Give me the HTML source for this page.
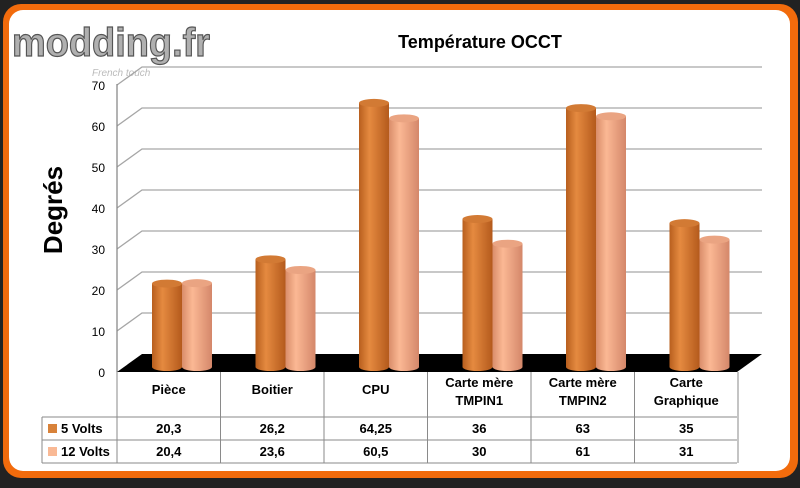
<!DOCTYPE html>
<html><head><meta charset="utf-8"><style>
body{margin:0;background:#222;width:800px;height:483px;overflow:hidden;font-family:"Liberation Sans",sans-serif}
</style></head><body>
<svg id="c" width="800" height="483" viewBox="0 0 800 483" xmlns="http://www.w3.org/2000/svg">
<defs>
<linearGradient id="g5" x1="0" x2="1"><stop offset="0" stop-color="#b85f1e"/><stop offset="0.35" stop-color="#e58a40"/><stop offset="1" stop-color="#b45a1c"/></linearGradient>
<linearGradient id="g12" x1="0" x2="1"><stop offset="0" stop-color="#d98d6a"/><stop offset="0.35" stop-color="#fbb894"/><stop offset="1" stop-color="#d4876a"/></linearGradient>
</defs>
<rect x="3" y="4" width="795" height="474" rx="18" fill="#f26b0c"/>
<rect x="9" y="10" width="781" height="461" rx="14" fill="#fff"/>
<text x="12" y="56" font-size="40" font-weight="bold" fill="#b0b0b0" stroke="#555" stroke-width="1.2" textLength="198" lengthAdjust="spacingAndGlyphs">modding.fr</text>
<text x="92" y="76" font-size="10" font-style="italic" fill="#bbb">French touch</text>
<text x="480" y="48" font-size="18" font-weight="bold" text-anchor="middle" fill="#000">Température OCCT</text>
<text transform="translate(62,210) rotate(-90)" font-size="26" font-weight="bold" text-anchor="middle" fill="#000">Degrés</text>
<g id="plot"></g>
</svg>
<script>
const categories=[["Pièce"],["Boitier"],["CPU"],["Carte mère","TMPIN1"],["Carte mère","TMPIN2"],["Carte","Graphique"]];
const seriesNames=["5 Volts","12 Volts"];
const volts5=[20.3,26.2,64.25,36,63,35];
const volts12=[20.4,23.6,60.5,30,61,31];
const labels5=["20,3","26,2","64,25","36","63","35"];
const labels12=["20,4","23,6","60,5","30","61","31"];
const yTicks=[0,10,20,30,40,50,60,70];

const NS="http://www.w3.org/2000/svg";
const g=document.getElementById('plot');
function el(t,a,p){const e=document.createElementNS(NS,t);for(const k in a)e.setAttribute(k,a[k]);(p||g).appendChild(e);return e;}
const X0=117,colW=103.5,DX=25,DY=18;
const yFront=v=>372-v*4.1;
const yBar=v=>367-v*4.11;
const xCat=i=>X0+i*colW;

yTicks.forEach(t=>{
  const y=yFront(t);
  if(t>0){
    const l=el('polyline',{points:`${X0},${y} ${X0+DX},${y-DY} 762,${y-DY}`,fill:'none',stroke:'#a6a6a6','stroke-width':1.3});
    
    
  }
  const tx=el('text',{x:105,y:y+5,'font-size':12,'text-anchor':'end',fill:'#000'});
  tx.textContent=t;
  
  
});
const ax=el('line',{x1:X0,y1:yFront(70)-1,x2:X0,y2:372,stroke:'#8a8a8a','stroke-width':1.3});


const fl=el('polygon',{points:`${X0},372 737,372 762,354 ${X0+DX},354`,fill:'#000'});



function cyl(x,v,grad,top,name){
  const w=30,rx=15,ry=4,y0=yBar(0),y1=yBar(v);
  const gg=el('g',{});
  
  
  el('rect',{x:x,y:y1,width:w,height:y0-y1,fill:'url(#'+grad+')'},gg);
  el('ellipse',{cx:x+rx,cy:y0,rx:rx,ry:ry,fill:'url(#'+grad+')'},gg);
  el('ellipse',{cx:x+rx,cy:y1,rx:rx,ry:ry,fill:top},gg);
}
categories.forEach((c,i)=>{
  cyl(xCat(i)+35,volts5[i],'g5','#d27a34','bar-5v-'+i);
  cyl(xCat(i)+65,volts12[i],'g12','#eaa482','bar-12v-'+i);
});

const ln=(x1,y1,x2,y2)=>el('line',{x1,y1,x2,y2,stroke:'#8a8a8a','stroke-width':1});
for(let i=0;i<=6;i++){ln(xCat(i),372,xCat(i),463);}
ln(42,417,737,417);ln(42,440,737,440);ln(42,463,737,463);ln(42,417,42,463);
categories.forEach((c,i)=>{
  const cx=xCat(i)+colW/2;
  c.forEach((s,j)=>{
    const t=el('text',{x:cx,y:(c.length==1?394:387)+j*18,'font-size':13,'font-weight':'bold','text-anchor':'middle'});
    t.textContent=s;
    
    
  });
  [labels5,labels12].forEach((L,r)=>{
    const t=el('text',{x:cx,y:433+r*23,'font-size':13,'font-weight':'bold','text-anchor':'middle'});
    t.textContent=L[i];
    
    
  });
});
seriesNames.forEach((n,r)=>{
  const sw=el('rect',{x:48,y:424+r*23,width:9,height:9,fill:r?'#f9b995':'#d8823a'});
  
  
  const t=el('text',{x:61,y:433+r*23,'font-size':13,'font-weight':'bold'});
  t.textContent=n;
  
  
});
</script>
</body></html>
